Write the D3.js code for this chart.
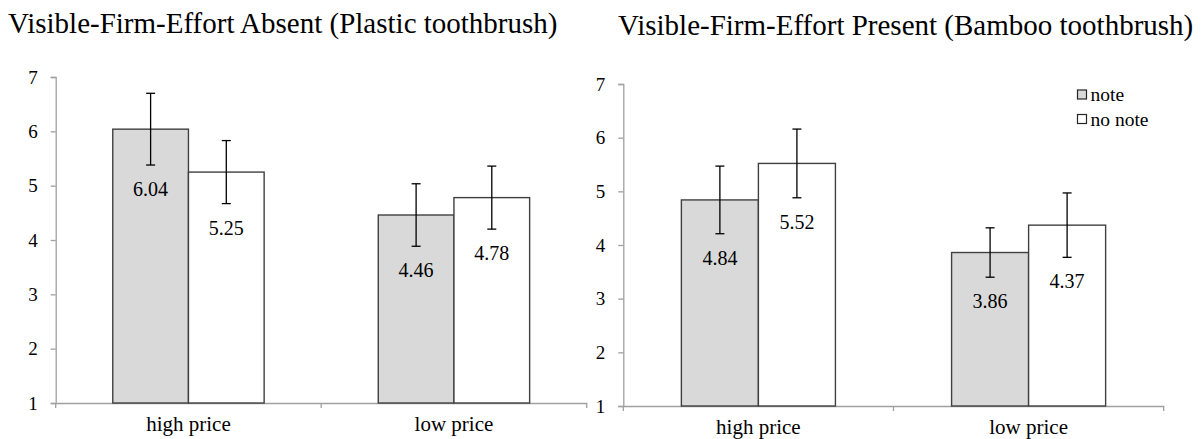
<!DOCTYPE html>
<html>
<head>
<meta charset="utf-8">
<script src="https://cdn.jsdelivr.net/npm/d3@7"></script>
<style>
  html, body { margin: 0; padding: 0; background: #fff; }
  svg { display: block; }
</style>
</head>
<body>
<svg id="chart" width="1202" height="439"></svg>
<script>
// ---- data ----
const categories = ["high price", "low price"];
const series = ["note", "no note"];
const yTicks = [1, 2, 3, 4, 5, 6, 7];

const absentTitle = "Visible-Firm-Effort Absent (Plastic toothbrush)";
const absentNote = [6.04, 4.46];
const absentNoNote = [5.25, 4.78];
const absentNoteErr = [0.66, 0.575];
const absentNoNoteErr = [0.58, 0.58];

const presentTitle = "Visible-Firm-Effort Present (Bamboo toothbrush)";
const presentNote = [4.84, 3.86];
const presentNoNote = [5.52, 4.37];
const presentNoteErr = [0.63, 0.46];
const presentNoNoteErr = [0.64, 0.60];

const seriesFill = ["#d9d9d9", "#ffffff"];

const SERIF = "'Liberation Serif', 'DejaVu Serif', serif";

// ---- drawing ----
const svg = d3.select("#chart");

function styleText(sel, size) {
  sel.style("font-family", SERIF).style("font-size", size + "px").style("fill", "#000");
}

function panel(cfg) {
  const g = svg.append("g");
  const x = d3.scaleBand().domain(categories).range([cfg.x0, cfg.x1]).padding(0);
  const xs = d3.scaleBand().domain(series).range([0, x.bandwidth()]).paddingInner(0).paddingOuter(0.754);
  const y = d3.scaleLinear().domain([1, 7]).range([cfg.yBottom, cfg.yTop]);

  // title
  styleText(svg.append("text").attr("x", cfg.titleX).attr("y", cfg.titleY).text(cfg.title), 29);

  // y axis
  const ya = g.append("g").attr("transform", `translate(${cfg.x0},0)`)
    .call(d3.axisLeft(y).tickValues(yTicks).tickSize(5).tickPadding(13).tickFormat(d3.format("d")));
  ya.select(".domain").attr("stroke", "#a0a0a0").attr("stroke-width", 1.3);
  ya.selectAll(".tick line").attr("stroke", "#a0a0a0").attr("stroke-width", 1.3);
  styleText(ya.selectAll(".tick text"), 19);

  // x axis
  const xa = g.append("g").attr("transform", `translate(0,${cfg.yBottom})`)
    .call(d3.axisBottom(x).tickSize(0).tickPadding(13).tickSizeOuter(0));
  xa.select(".domain").attr("stroke", "#a0a0a0").attr("stroke-width", 1.3);
  styleText(xa.selectAll(".tick text"), 21);
  // boundary ticks
  const bounds = [x.range()[0], ...categories.slice(1).map(c => x(c)), x.range()[1]];
  g.selectAll(".btick").data(bounds).join("line")
    .attr("x1", d => d).attr("x2", d => d)
    .attr("y1", cfg.yBottom).attr("y2", cfg.yBottom + 5)
    .attr("stroke", "#a0a0a0").attr("stroke-width", 1.3);

  const rows = [];
  categories.forEach((c, i) => {
    rows.push({ c, s: series[0], v: cfg.note[i], e: cfg.noteErr[i], k: 0 });
    rows.push({ c, s: series[1], v: cfg.noNote[i], e: cfg.noNoteErr[i], k: 1 });
  });

  // bars
  g.selectAll(".bar").data(rows).join("rect")
    .attr("x", d => x(d.c) + xs(d.s))
    .attr("width", xs.bandwidth())
    .attr("y", d => y(d.v))
    .attr("height", d => y(1) - y(d.v))
    .attr("fill", d => seriesFill[d.k])
    .attr("stroke", "#404040").attr("stroke-width", 1.4);

  // error bars
  const cx = d => x(d.c) + xs(d.s) + xs.bandwidth() / 2;
  g.selectAll(".err").data(rows).join("line")
    .attr("x1", cx).attr("x2", cx)
    .attr("y1", d => y(d.v + d.e)).attr("y2", d => y(d.v - d.e))
    .attr("stroke", "#000").attr("stroke-width", 1.3);
  [1, -1].forEach(sgn => {
    g.selectAll(".cap" + sgn).data(rows).join("line")
      .attr("x1", d => cx(d) - 4.5).attr("x2", d => cx(d) + 4.5)
      .attr("y1", d => y(d.v + sgn * d.e)).attr("y2", d => y(d.v + sgn * d.e))
      .attr("stroke", "#000").attr("stroke-width", 1.3);
  });

  // value labels
  styleText(g.selectAll(".lbl").data(rows).join("text")
    .attr("x", cx)
    .attr("y", d => y(d.v - d.e) + 24)
    .attr("dy", "0.35em")
    .attr("text-anchor", "middle")
    .text(d => d3.format(".2f")(d.v)), 20);

  return { x, y };
}

panel({ title: absentTitle, titleX: 8, titleY: 33, x0: 55.7, x1: 586.7, yTop: 77, yBottom: 403,
  note: absentNote, noNote: absentNoNote, noteErr: absentNoteErr, noNoteErr: absentNoNoteErr });
panel({ title: presentTitle, titleX: 618, titleY: 35, x0: 623.3, x1: 1163.7, yTop: 84, yBottom: 406,
  note: presentNote, noNote: presentNoNote, noteErr: presentNoteErr, noNoteErr: presentNoNoteErr });

// legend
const leg = svg.append("g").attr("transform", "translate(1077.5,90)");
series.forEach((s, i) => {
  const r = leg.append("g").attr("transform", `translate(0,${i * 24.5})`);
  r.append("rect").attr("x", 0).attr("y", 0).attr("width", 9).attr("height", 9)
    .attr("fill", seriesFill[i]).attr("stroke", "#262626").attr("stroke-width", 1.2);
  styleText(r.append("text").attr("x", 13).attr("y", 4.5).attr("dy", "0.35em").text(s), 19.5);
});
</script>
</body>
</html>
